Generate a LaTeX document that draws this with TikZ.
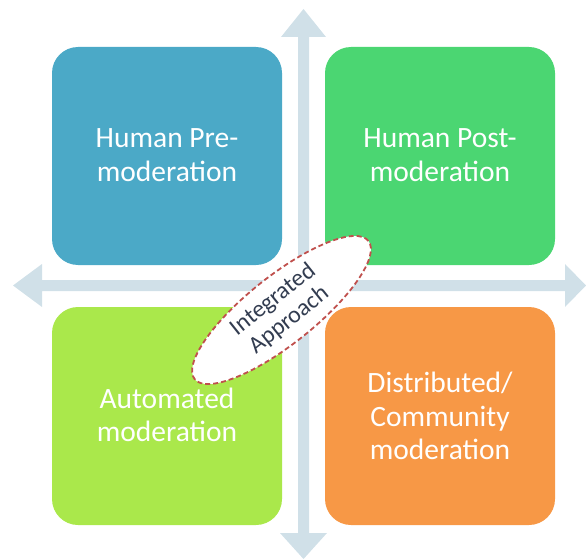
\documentclass[tikz,border=0pt]{standalone}
\usepackage{fontspec}
\setmainfont{Carlito}
\usetikzlibrary{shapes.geometric}
\definecolor{axis}{RGB}{208,224,232}
\definecolor{cblue}{RGB}{75,169,199}
\definecolor{cgreen}{RGB}{75,214,114}
\definecolor{clime}{RGB}{170,232,75}
\definecolor{corange}{RGB}{247,152,70}
\definecolor{cred}{RGB}{192,80,77}
\definecolor{ctext}{RGB}{50,60,80}
\tikzset{
  quad/.style={rounded corners=26pt, minimum width=230pt, minimum height=218pt, inner sep=0pt},
  quadtext/.style={text=white, align=center, font=\fontsize{29.5}{33.5}\selectfont},
}
\begin{document}
\begin{tikzpicture}[x=1pt,y=-1pt]
\useasboundingbox (0,0) rectangle (586,559);
% axes
\fill[axis] (303.5,9) -- (326,37) -- (309,37) -- (309,533) -- (327,533) -- (303.5,559) -- (280,533) -- (298,533) -- (298,37) -- (281,37) -- cycle;
\fill[axis] (13,285.5) -- (42,264) -- (42,280) -- (565,280) -- (565,264) -- (586,285.5) -- (565,307) -- (565,291) -- (42,291) -- (42,307) -- cycle;
% quadrants
\node[quad, fill=cblue] (tl) at (167,156) {};
\node[quadtext] (tlt) at (167,155) {Human Pre-\\moderation};
\node[quad, fill=cgreen] (tr) at (440,156) {};
\node[quadtext] (trt) at (440,155) {Human Post-\\moderation};
\node[quad, fill=clime] (bl) at (167,416) {};
\node[quadtext] (blt) at (167,415) {Automated\\moderation};
\node[quad, fill=corange] (br) at (440,416) {};
\node[quadtext] (brt) at (440,416) {Distributed/\\Community\\moderation};
% integrated approach
\node[ellipse, draw=cred, dash pattern=on 5pt off 3pt, line width=1.8pt, fill=white, minimum width=222pt, minimum height=68pt, rotate=38.5, inner sep=0pt, text=ctext, align=center, font=\fontsize{24}{26}\selectfont] (ia) at (281.5,310) {Integrated\\Approach};
\end{tikzpicture}
\end{document}
